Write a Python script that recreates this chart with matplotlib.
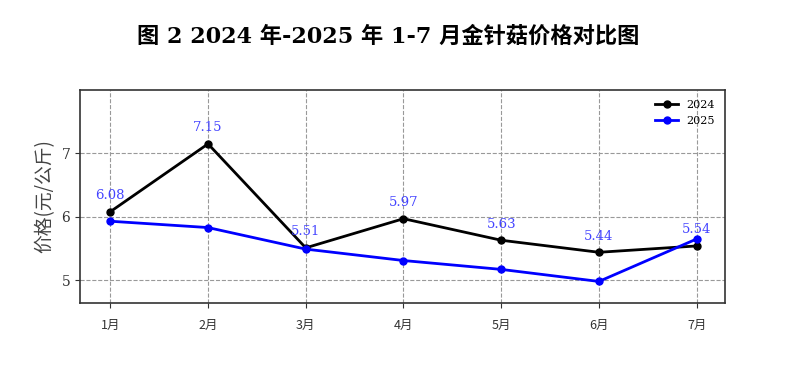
import matplotlib
matplotlib.use("Agg")
import matplotlib.pyplot as plt

plt.rcParams['font.family'] = ['DejaVu Serif', 'Noto Sans CJK SC']

months = ['1月', '2月', '3月', '4月', '5月', '6月', '7月']
price_2024 = [6.08, 7.15, 5.51, 5.97, 5.63, 5.44, 5.54]
price_2025 = [5.93, 5.83, 5.49, 5.31, 5.17, 4.98, 5.65]
labels_2024 = ['6.08', '7.15', '5.51', '5.97', '5.63', '5.44', '5.54']

fig = plt.figure(figsize=(8.01, 3.65), dpi=100)
ax = fig.add_axes([80/801, 1-303/365, (725-80)/801, (303-90)/365])

x = list(range(1, len(months)+1))
ax.plot(x, price_2024, color='black', marker='o', markersize=5, linewidth=2, label='2024')
ax.plot(x, price_2025, color='blue', marker='o', markersize=5, linewidth=2, label='2025')

for xi, yi, t in zip(x, price_2024, labels_2024):
    ax.annotate(t, (xi, yi), xytext=(0, 7), textcoords='offset points',
                ha='center', va='bottom', color='#4444ff', fontsize=9.5)

ax.set_xlim(0.69, 7.29)
ax.set_ylim(4.64, 8.0)
ax.set_xticks(x)
ax.set_xticklabels(months, fontsize=9, family=['Noto Sans CJK SC'])
ax.set_yticks([5, 6, 7])
ax.tick_params(axis='y', labelsize=10, colors='#333333')
ax.tick_params(axis='x', colors='#333333', pad=8)
ax.grid(True, linestyle='--', color='#999999', linewidth=0.8)
for s in ax.spines.values():
    s.set_linewidth(1.2)
    s.set_color('#333333')
ax.set_ylabel('价格(元/公斤)', fontsize=13.5, color='#444444', family=['Noto Sans CJK SC'])
ax.legend(loc='upper right', frameon=False, fontsize=8)

fig.text(0.485, 0.9, '图 2 2024 年-2025 年 1-7 月金针菇价格对比图', ha='center', va='center',
         fontsize=16, fontweight='bold', family=['DejaVu Serif', 'Noto Sans CJK SC'])

fig.savefig('out.png', dpi=100)
